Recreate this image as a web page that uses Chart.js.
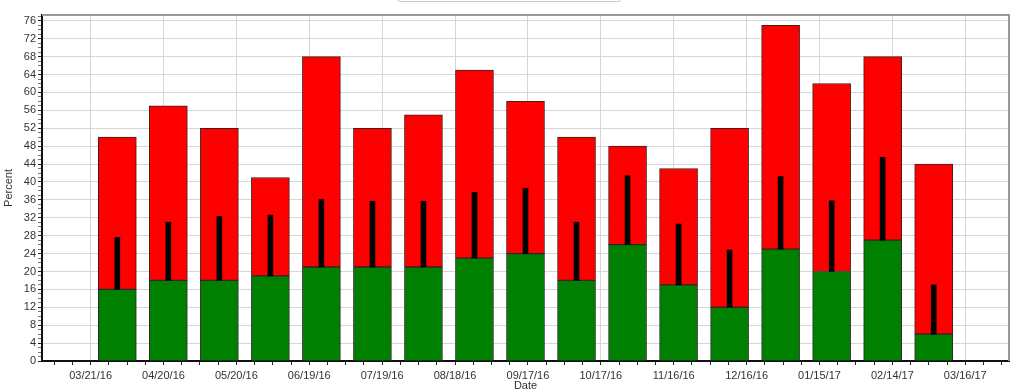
<!DOCTYPE html>
<html>
<head>
<meta charset="utf-8">
<script src="https://cdn.jsdelivr.net/npm/chart.js@4.4.0/dist/chart.umd.min.js"></script>
<style>
  body { margin: 0; background: #fff; }
  #wrap { position: relative; width: 1024px; height: 390px; overflow: hidden; }
  #titleBox { position: absolute; left: 397px; top: -20px; width: 222px; height: 20px; border: 1px solid #c8c8c8; border-radius: 3px; }
</style>
</head>
<body>
<div id="wrap">
  <canvas id="grafico" width="1024" height="390"></canvas>
  <div id="titleBox"></div>
</div>
<script>
// ====== DADOS ======
const barDates = ["04/01/16", "04/22/16", "05/13/16", "06/03/16", "06/24/16", "07/15/16",
  "08/05/16", "08/26/16", "09/16/16", "10/07/16", "10/28/16", "11/18/16", "12/09/16",
  "12/30/16", "01/20/17", "02/10/17", "03/03/17"];
const greenValues = [16, 18, 18, 19, 21, 21, 21, 23, 24, 18, 26, 17, 12, 25, 20, 27, 6];
const totalValues = [50, 57, 52, 41, 68, 52, 55, 65, 58, 50, 48, 43, 52, 75, 62, 68, 44];
const errorTops = [27.6, 31, 32.3, 32.6, 36.1, 35.7, 35.7, 37.7, 38.6, 31, 41.4, 30.6, 24.8, 41.2, 35.8, 45.5, 17];

const dateTicks = ["03/21/16", "04/20/16", "05/20/16", "06/19/16", "07/19/16", "08/18/16",
  "09/17/16", "10/17/16", "11/16/16", "12/16/16", "01/15/17", "02/14/17", "03/16/17"];
const axisStart = "03/01/16";
const axisEnd = "04/03/17";
const yMax = 77.3;
const yStep = 4;

// ====== HELPERS ======
function toDay(s) {
  const [m, d, y] = s.split("/").map(Number);
  return Date.UTC(2000 + y, m - 1, d) / 86400000;
}

const xMin = toDay(axisStart);
const xMax = toDay(axisEnd);
const majorLabels = new Map(dateTicks.map(t => [toDay(t), t]));

// minor ticks: 4 per 30-day interval
const xTickValues = [];
for (let v = toDay(dateTicks[0]) - 15; v <= xMax; v += 7.5) {
  if (v >= xMin) xTickValues.push(v);
}
const yTickValues = [];
for (let v = 0; v <= yMax; v += 1) yTickValues.push(v);

const font = { family: "'Liberation Sans', Arial, sans-serif", size: 11 };
const textColor = "#333";
const gridColor = "#d6d6d6";

const framePlugin = {
  id: "frame",
  beforeDatasetsDraw(chart) {
    const { ctx, chartArea: a } = chart;
    ctx.save();
    ctx.strokeStyle = "#9a9a9a";
    ctx.lineWidth = 2;
    ctx.beginPath();
    ctx.moveTo(a.left, a.top);
    ctx.lineTo(a.right, a.top);
    ctx.lineTo(a.right, a.bottom);
    ctx.stroke();
    ctx.restore();
  }
};

new Chart(document.getElementById("grafico"), {
  type: "bar",
  data: {
    datasets: [
      {
        label: "range",
        data: barDates.map((d, i) => ({ x: toDay(d), y: [greenValues[i], errorTops[i]] })),
        backgroundColor: "#000",
        borderWidth: 0,
        barThickness: 5,
        grouped: false,
        order: 0
      },
      {
        label: "green",
        data: barDates.map((d, i) => ({ x: toDay(d), y: greenValues[i] })),
        backgroundColor: "#008000",
        borderColor: "#2a2a2a",
        borderWidth: 1,
        barThickness: 38,
        grouped: false,
        order: 1
      },
      {
        label: "red",
        data: barDates.map((d, i) => ({ x: toDay(d), y: [greenValues[i], totalValues[i]] })),
        backgroundColor: "#ff0000",
        borderColor: "#4a1a1a",
        borderWidth: 1,
        borderSkipped: false,
        barThickness: 38,
        grouped: false,
        order: 2
      }
    ]
  },
  options: {
    responsive: false,
    animation: false,
    layout: { padding: { top: 15, right: 15, left: 0, bottom: 0 } },
    plugins: { legend: { display: false }, tooltip: { enabled: false } },
    scales: {
      x: {
        type: "linear",
        min: xMin,
        max: xMax,
        offset: false,
        afterBuildTicks: s => { s.ticks = xTickValues.map(v => ({ value: v })); },
        afterFit: s => { s.height = 29; },
        ticks: {
          autoSkip: false,
          maxRotation: 0,
          padding: 4,
          font: font,
          color: textColor,
          callback: v => majorLabels.get(v) || ""
        },
        grid: {
          offset: false,
          color: c => (c.tick && majorLabels.has(c.tick.value) ? gridColor : "rgba(0,0,0,0)"),
          tickColor: "#222",
          tickLength: 4
        },
        border: { color: "#111", width: 2 },
        title: { display: true, text: "Date", font: font, color: textColor, padding: { top: 0, bottom: -3 } }
      },
      y: {
        min: 0,
        max: yMax,
        afterBuildTicks: s => { s.ticks = yTickValues.map(v => ({ value: v })); },
        afterFit: s => { s.width = 42; },
        ticks: {
          autoSkip: false,
          padding: 2,
          font: font,
          color: textColor,
          callback: v => (v % yStep === 0 ? v : "")
        },
        grid: {
          color: c => (c.tick && c.tick.value % yStep === 0 ? gridColor : "rgba(0,0,0,0)"),
          tickColor: c => (c.tick && c.tick.value % yStep === 0 ? "#222" : "#777"),
          tickLength: 4
        },
        border: { color: "#111", width: 2 },
        title: { display: true, text: "Percent", font: font, color: textColor, padding: { top: 2, bottom: 0 } }
      }
    }
  },
  plugins: [framePlugin]
});
</script>
</body>
</html>
